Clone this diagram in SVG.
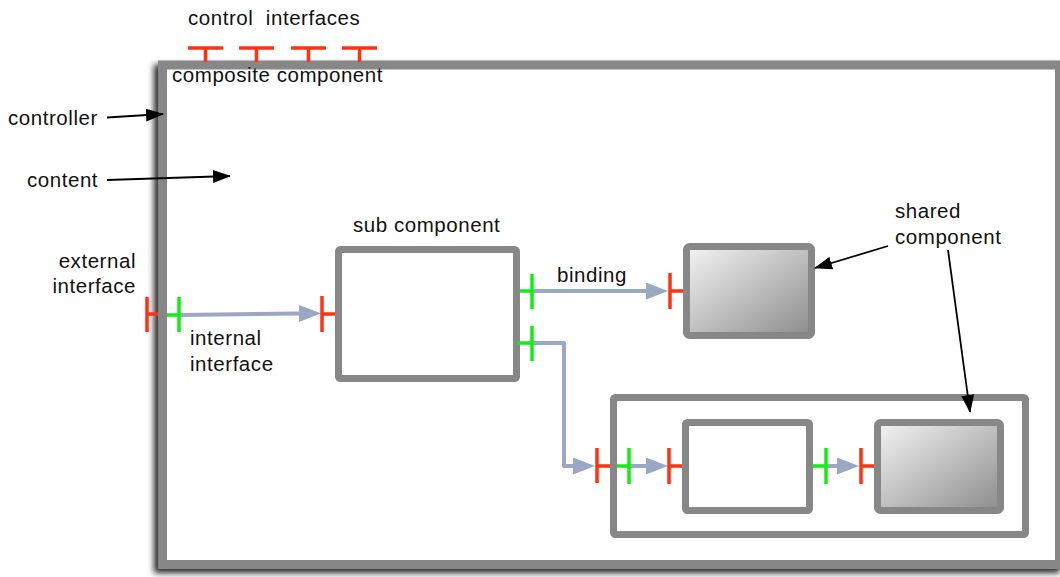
<svg xmlns="http://www.w3.org/2000/svg" width="1060" height="577" viewBox="0 0 1060 577">
<style>
text{font-family:"Liberation Sans",Arial,sans-serif;font-size:20.5px;fill:#111;letter-spacing:0.55px}
.box{fill:#fff;stroke:#878787;stroke-width:7}
.shared{fill:url(#grad);stroke:#878787;stroke-width:7}
.in{stroke:#ff3311;stroke-width:3.5;fill:none}
.out{stroke:#11ee11;stroke-width:3.5;fill:none}
.conn{stroke:#9aa8c3;stroke-width:4;fill:none;stroke-linejoin:round}
.ann{stroke:#000;stroke-width:1.8;fill:none}
</style>
<defs>
<linearGradient id="grad" x1="0" y1="0" x2="1" y2="1">
<stop offset="0" stop-color="#f4f4f4"/>
<stop offset="1" stop-color="#8c8c8c"/>
</linearGradient>
<filter id="shadow" x="-5%" y="-5%" width="110%" height="110%">
<feDropShadow dx="-4" dy="4" stdDeviation="3" flood-color="#000" flood-opacity="0.85"/>
</filter>
<marker id="ah" markerUnits="userSpaceOnUse" markerWidth="22" markerHeight="17" refX="0" refY="8.5" orient="auto">
<path d="M0,0 L22,8.5 L0,17 z" fill="#9aa8c3"/>
</marker>
<marker id="bh" markerUnits="userSpaceOnUse" markerWidth="18" markerHeight="13" refX="17" refY="6.5" orient="auto">
<path d="M0,0 L18,6.5 L0,13 z" fill="#000"/>
</marker>
</defs>

<g id="composite">
<rect x="162.5" y="65" width="897" height="499.5" class="box" style="stroke-width:9" filter="url(#shadow)"/>
<text x="172" y="82">composite component</text>
</g>

<g id="control-interfaces">
<text x="188" y="25" xml:space="preserve">control  interfaces</text>
<path class="in" d="M188,48 H223 M205.5,48 V62 M239,48 H274 M256.5,48 V62 M291,48 H326 M308.5,48 V62 M342,48 H377 M359.5,48 V62"/>
</g>

<g id="labels">
<text x="8" y="125">controller</text>
<text x="27" y="187">content</text>
<text x="136" y="268" text-anchor="end">external</text>
<text x="136" y="293" text-anchor="end">interface</text>
<text x="190" y="345">internal</text>
<text x="190" y="371">interface</text>
<text x="557" y="282">binding</text>
<text x="895" y="218">shared</text>
<text x="895" y="244">component</text>
</g>

<g id="sub-component">
<text x="353" y="232">sub component</text>
<rect x="338.5" y="249.5" width="178" height="129" rx="2" class="box"/>
</g>

<g id="shared-top">
<rect x="686.5" y="246.5" width="125" height="89" rx="3" class="shared"/>
</g>

<g id="container">
<rect x="613.5" y="397.5" width="412" height="137" rx="2" class="box"/>
</g>

<g id="inner-component">
<rect x="685.5" y="422.5" width="124" height="88" rx="2" class="box"/>
</g>

<g id="shared-inner">
<rect x="877.5" y="422.5" width="123" height="88" rx="3" class="shared"/>
</g>

<g id="connectors">
<path class="conn" d="M179,315 L299,313.5" marker-end="url(#ah)"/>
<path class="conn" d="M532,291 L646,291" marker-end="url(#ah)"/>
<path class="conn" d="M532,343 L564,343 L564,466 L573,466" marker-end="url(#ah)"/>
<path class="conn" d="M629,466 L646,466" marker-end="url(#ah)"/>
<path class="conn" d="M826,466 L837,466" marker-end="url(#ah)"/>

<path class="ann" d="M107,117.5 L163,114" marker-end="url(#bh)"/>
<path class="ann" d="M107,180 L230,176" marker-end="url(#bh)"/>
<path class="ann" d="M888,246 L815,268" marker-end="url(#bh)"/>
<path class="ann" d="M948,250 L970,412" marker-end="url(#bh)"/>
</g>

<g id="ports">
<path class="in" d="M147,297 V332 M147,314 H158"/>
<path class="out" d="M167,315 H179 M179,297 V332"/>
<path class="in" d="M322,296 V332 M322,314 H335"/>
<path class="out" d="M520,291 H532 M532,274 V309"/>
<path class="out" d="M517,343 H532 M532,326 V361"/>
<path class="in" d="M670,273 V309 M670,291 H683"/>
<path class="in" d="M597,448 V483 M597,466 H610"/>
<path class="out" d="M617,466 H629 M629,448 V484"/>
<path class="in" d="M669,448 V484 M669,466 H682"/>
<path class="out" d="M813,466 H826 M826,448 V484"/>
<path class="in" d="M861,448 V484 M861,466 H874"/>
</g>
</svg>
